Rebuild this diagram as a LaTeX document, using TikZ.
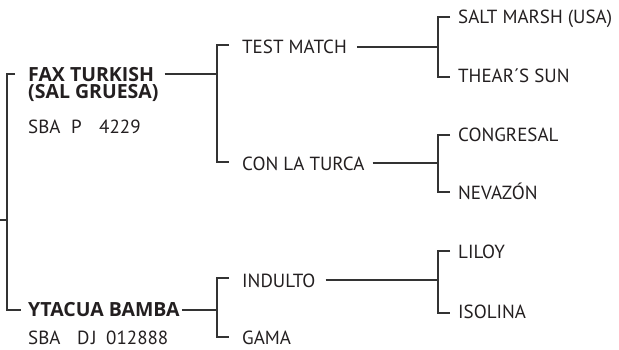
\documentclass[tikz,border=0pt]{standalone}
\usepackage{fontspec}
\setmainfont{PT Sans}
\newfontfamily\boldfam{Open Sans}
\definecolor{ink}{HTML}{231F20}
\definecolor{wire}{HTML}{333333}
\begin{document}
\begin{tikzpicture}[x=1pt,y=-1pt,
  lbl/.style={anchor=base west,inner sep=0pt,text=ink,font=\fontsize{19}{19}\selectfont},
  blbl/.style={lbl,font=\fontsize{19.5}{17.5}\selectfont\boldfam\bfseries},
  wirestyle/.style={draw=wire,line width=1.2pt}]
\useasboundingbox (0,0) rectangle (619,349);
% generation 1
\node[blbl,anchor=north west,align=left] (fax) at (28,67) {FAX TURKISH\\(SAL GRUESA)};
\node[lbl] (faxreg) at (28,133) {SBA};
\node[lbl] (faxregb) at (71,133) {P};
\node[lbl] (faxregc) at (99,133) {4229};
\node[blbl] (yta) at (28,316) {YTACUA BAMBA};
\node[lbl] (ytareg) at (28,344) {SBA};
\node[lbl] (ytaregb) at (77,344) {D};
\node[lbl] (ytaregc) at (91,344) {J};
\node[lbl] (ytaregd) at (106,344) {012888};
% generation 2
\node[lbl] (test) at (242,53) {TEST MATCH};
\node[lbl] (con) at (242,170) {CON LA TURCA};
\node[lbl] (ind) at (242,287) {INDULTO};
\node[lbl] (gama) at (242,344) {GAMA};
% generation 3
\node[lbl] (salt) at (458,23) {SALT MARSH (USA)};
\node[lbl] (thear) at (458,82) {THEAR\textasciiacute S SUN};
\node[lbl] (cong) at (458,141) {CONGRESAL};
\node[lbl] (nev) at (458,199) {NEVAZÓN};
\node[lbl] (liloy) at (458,258) {LILOY};
\node[lbl] (iso) at (458,318) {ISOLINA};
% bracket coordinates
\coordinate (r0) at (0,220);
\coordinate (rt) at (7,74);
\coordinate (rb) at (7,310);
\coordinate (a0) at (217,74);
\coordinate (at) at (217,45);
\coordinate (ab) at (217,162);
\coordinate (b0) at (217,310);
\coordinate (bt) at (217,278);
\coordinate (bb) at (217,337);
\coordinate (c0) at (438,47);
\coordinate (ct) at (438,17);
\coordinate (cb) at (438,77);
\coordinate (d0) at (438,163);
\coordinate (dt) at (438,135);
\coordinate (db) at (438,192);
\coordinate (e0) at (438,280);
\coordinate (et) at (438,251);
\coordinate (eb) at (438,313);
% root
\draw[wirestyle] (r0) -- (r0 -| rt);
\draw[wirestyle] ([xshift=8pt]rt) -- (rt) -- (rb) -- ([xshift=14pt]rb);
% level 1 -> 2
\draw[wirestyle] ([xshift=6pt]fax.east |- a0) -- (a0);
\draw[wirestyle] ([xshift=2pt]yta.east |- b0) -- (b0);
\draw[wirestyle] ([xshift=12pt]at) -- (at) -- (ab) -- ([xshift=12pt]ab);
\draw[wirestyle] ([xshift=12pt]bt) -- (bt) -- (bb) -- ([xshift=12pt]bb);
% level 2 -> 3
\draw[wirestyle] ([xshift=10pt]test.east |- c0) -- (c0);
\draw[wirestyle] ([xshift=8pt]con.east |- d0) -- (d0);
\draw[wirestyle] ([xshift=10pt]ind.east |- e0) -- (e0);
\draw[wirestyle] ([xshift=12pt]ct) -- (ct) -- (cb) -- ([xshift=12pt]cb);
\draw[wirestyle] ([xshift=12pt]dt) -- (dt) -- (db) -- ([xshift=12pt]db);
\draw[wirestyle] ([xshift=12pt]et) -- (et) -- (eb) -- ([xshift=12pt]eb);
\end{tikzpicture}
\end{document}
